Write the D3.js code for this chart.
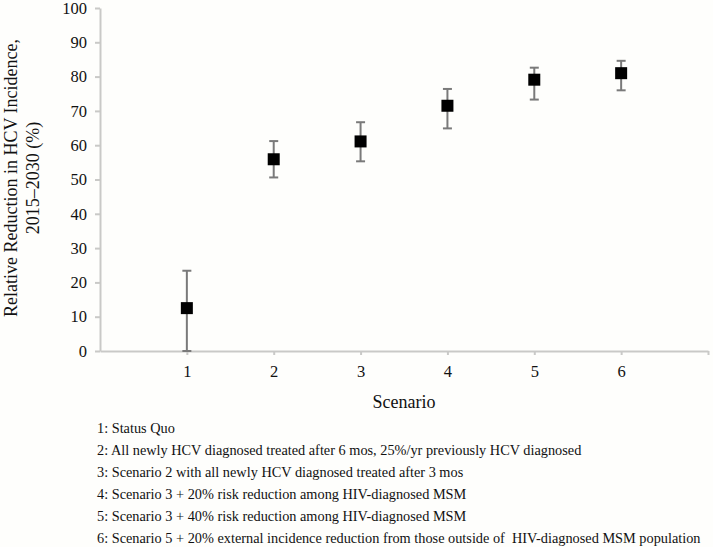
<!DOCTYPE html>
<html lang="en">
  <head>
    <meta charset="utf-8">
    <script src="https://cdnjs.cloudflare.com/ajax/libs/d3/7.8.5/d3.min.js"></script>
    <style>
      body { margin: 0; background: #fefefc; }
      text { font-family: "Liberation Serif", "Times New Roman", serif; fill: #111; }
      .axis path, .axis line { stroke: #c9c9c7; stroke-width: 2px; }
      .axis text { font-size: 16.5px; font-family: "Liberation Serif", serif; }
      .err line { stroke: #7a7a7a; stroke-width: 2px; }
      .legend text { font-size: 14.3px; }
    </style>
  </head>
  <body>
  <script>
  var width = 713,
      height = 547;

  // data
  var scenarios = [1, 2, 3, 4, 5, 6];
  var means = [12.5, 55.9, 61.1, 71.5, 79.1, 81.0];
  var lower = [0, 50.6, 55.3, 64.9, 73.3, 76.0];
  var upper = [23.4, 61.2, 66.7, 76.4, 82.6, 84.6];
  var yTicks = [0, 10, 20, 30, 40, 50, 60, 70, 80, 90, 100];
  var xTicks = [1, 2, 3, 4, 5, 6, 7];
  var xTickLabels = ['1', '2', '3', '4', '5', '6', ''];
  var legendLines = [
    '1: Status Quo',
    '2: All newly HCV diagnosed treated after 6 mos, 25%/yr previously HCV diagnosed',
    '3: Scenario 2 with all newly HCV diagnosed treated after 3 mos',
    '4: Scenario 3 + 20% risk reduction among HIV-diagnosed MSM',
    '5: Scenario 3 + 40% risk reduction among HIV-diagnosed MSM',
    '6: Scenario 5 + 20% external incidence reduction from those outside of  HIV-diagnosed MSM population'
  ];

  var points = scenarios.map((s, i) => ({ s: s, m: means[i], lo: lower[i], hi: upper[i] }));

  var svg = d3.select('body')
    .append('svg')
    .attr('width', width)
    .attr('height', height);

  var x = d3.scaleLinear().domain([0, 7]).range([100, 708]);
  var y = d3.scaleLinear().domain([0, 100]).range([351, 8]);

  svg.append('g')
    .attr('class', 'axis')
    .attr('transform', 'translate(' + x(0) + ',0)')
    .call(d3.axisLeft(y).tickValues(yTicks).tickSize(5).tickSizeOuter(0).tickPadding(8));

  svg.append('g')
    .attr('class', 'axis')
    .attr('transform', 'translate(0,' + y(0) + ')')
    .call(d3.axisBottom(x).tickValues(xTicks).tickFormat((d, i) => xTickLabels[i])
      .tickSize(4).tickSizeOuter(0).tickPadding(10));

  // error bars
  var err = svg.append('g').attr('class', 'err');
  var bars = err.selectAll('g').data(points).enter().append('g');
  bars.append('line')
    .attr('x1', d => x(d.s)).attr('x2', d => x(d.s))
    .attr('y1', d => y(d.lo)).attr('y2', d => y(d.hi));
  bars.append('line')
    .attr('x1', d => x(d.s) - 4.5).attr('x2', d => x(d.s) + 4.5)
    .attr('y1', d => y(d.hi)).attr('y2', d => y(d.hi));
  bars.append('line')
    .attr('x1', d => x(d.s) - 4.5).attr('x2', d => x(d.s) + 4.5)
    .attr('y1', d => y(d.lo)).attr('y2', d => y(d.lo));

  // markers
  svg.append('g').selectAll('rect')
    .data(points)
    .enter().append('rect')
      .attr('x', d => x(d.s) - 6)
      .attr('y', d => y(d.m) - 6)
      .attr('width', 12)
      .attr('height', 12)
      .attr('fill', '#000');

  // axis titles
  var yt = svg.append('text')
    .attr('transform', 'translate(17,178) rotate(-90)')
    .attr('text-anchor', 'middle')
    .style('font-size', '18px');
  yt.append('tspan').attr('x', 0).attr('y', 0).text('Relative Reduction in HCV Incidence,');
  yt.append('tspan').attr('x', 0).attr('y', 22).text('2015\u20132030 (%)');

  svg.append('text')
    .attr('x', (x(0) + x(7)) / 2)
    .attr('y', 408)
    .attr('text-anchor', 'middle')
    .style('font-size', '18px')
    .text('Scenario');

  svg.append('g').attr('class', 'legend')
    .selectAll('text')
    .data(legendLines)
    .enter().append('text')
      .attr('x', 97)
      .attr('y', (d, i) => 433 + i * 22)
      .style('white-space', 'pre')
      .text(d => d);
  </script>
  </body>
</html>
